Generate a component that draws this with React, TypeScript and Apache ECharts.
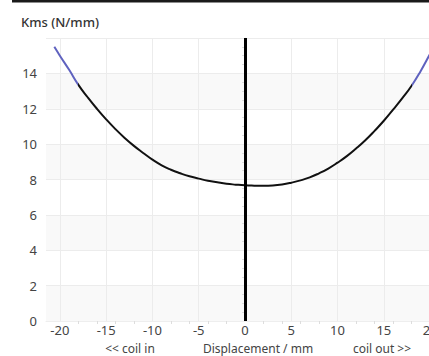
import React, { useEffect, useRef } from "react";
import * as echarts from "echarts";

const displacement = [-20.6, -20, -19, -18, -17, -16, -15, -14, -13, -12, -11, -10, -9, -8, -7, -6, -5, -4, -3, -2, -1, 0, 1, 2, 3, 4, 5, 6, 7, 8, 9, 10, 11, 12, 13, 14, 15, 16, 17, 18, 19, 20, 21];
const kms = [15.5, 15.0, 14.2, 13.35, 12.65, 12.0, 11.4, 10.85, 10.35, 9.9, 9.5, 9.12, 8.8, 8.55, 8.35, 8.18, 8.05, 7.93, 7.84, 7.76, 7.71, 7.67, 7.65, 7.64, 7.66, 7.72, 7.82, 7.95, 8.12, 8.35, 8.62, 8.95, 9.32, 9.75, 10.22, 10.75, 11.32, 11.95, 12.6, 13.3, 14.15, 15.1, 16.0];
const xmaxLimit = 18;
const xTicks = [-20, -15, -10, -5, 0, 5, 10, 15, 20];
const yTicks = [0, 2, 4, 6, 8, 10, 12, 14, 16];
const yTickLabels = ["0", "2", "4", "6", "8", "10", "12", "14"];

const FONT = "'Noto Sans', sans-serif";

export default function App() {
  const ref = useRef<HTMLDivElement>(null);
  useEffect(() => {
    if (!ref.current) return;
    const chart = echarts.init(ref.current, undefined, { renderer: "svg" });
    const data = displacement.map((x, i) => [x, kms[i]]);
    const nameStyle = { fontFamily: FONT, fontSize: 12, fill: "#444", align: "center", verticalAlign: "middle" };
    chart.setOption({
      animation: false,
      backgroundColor: "#fff",
      title: {
        text: "Kms (N/mm)",
        left: 16,
        top: 10,
        textStyle: { fontFamily: FONT, fontSize: 13, fontWeight: 500, color: "#333" },
      },
      grid: { left: 46, top: 38, width: 398, height: 283, outerBoundsMode: "none", containLabel: false },
      graphic: [
        { type: "rect", shape: { x: 12, y: 0, width: 440, height: 2.5 }, style: { fill: "#1a1a1a" } },
        { type: "text", x: 130, y: 348, style: { ...nameStyle, text: "<< coil in" } },
        { type: "text", x: 258, y: 348, style: { ...nameStyle, text: "Displacement / mm" } },
        { type: "text", x: 382, y: 348, style: { ...nameStyle, text: "coil out >>" } },
      ],
      visualMap: {
        show: false,
        type: "piecewise",
        dimension: 0,
        seriesIndex: 0,
        pieces: [
          { lt: -xmaxLimit, color: "#5f62bf" },
          { gte: -xmaxLimit, lte: xmaxLimit, color: "#111" },
          { gt: xmaxLimit, color: "#5f62bf" },
        ],
      },
      xAxis: {
        type: "value",
        min: -21.5,
        max: 21.5,
        axisLine: { show: true, lineStyle: { color: "#eee" } },
        axisTick: { show: false, customValues: xTicks },
        minorTick: { show: true, splitNumber: 5, length: 3, lineStyle: { color: "#ddd" } },
        axisLabel: {
          fontFamily: FONT,
          fontSize: 13,
          color: "#444",
          margin: 2,
          customValues: xTicks,
        },
        splitLine: { show: true, lineStyle: { color: "#ececec" } },
      },
      yAxis: {
        type: "value",
        min: 0,
        max: 16,
        interval: 2,
        axisLine: { show: true, lineStyle: { color: "#eee" } },
        axisTick: { show: false, customValues: yTicks },
        minorTick: { show: true, splitNumber: 4, length: 3, lineStyle: { color: "#ddd" } },
        axisLabel: {
          fontFamily: FONT,
          fontSize: 13,
          color: "#444",
          margin: 9,
          formatter: (v: number) => (yTickLabels.includes(String(v)) ? String(v) : ""),
        },
        splitLine: { show: true, lineStyle: { color: "#ececec" } },
        splitArea: { show: true, areaStyle: { color: ["#f9f9f9", "#ffffff"] } },
      },
      series: [
        {
          type: "line",
          data,
          smooth: true,
          symbol: "none",
          lineStyle: { width: 2 },
          markLine: {
            silent: true,
            symbol: "none",
            label: { show: false },
            lineStyle: { color: "#000", width: 3, type: "solid" },
            data: [{ xAxis: 0 }],
          },
        },
      ],
    });
    return () => chart.dispose();
  }, []);
  return (
    <div style={{ position: "absolute", left: 0, top: 0, width: 429, height: 356, overflow: "hidden", background: "#fff" }}>
      <div ref={ref} style={{ width: 460, height: 356 }} />
    </div>
  );
}
